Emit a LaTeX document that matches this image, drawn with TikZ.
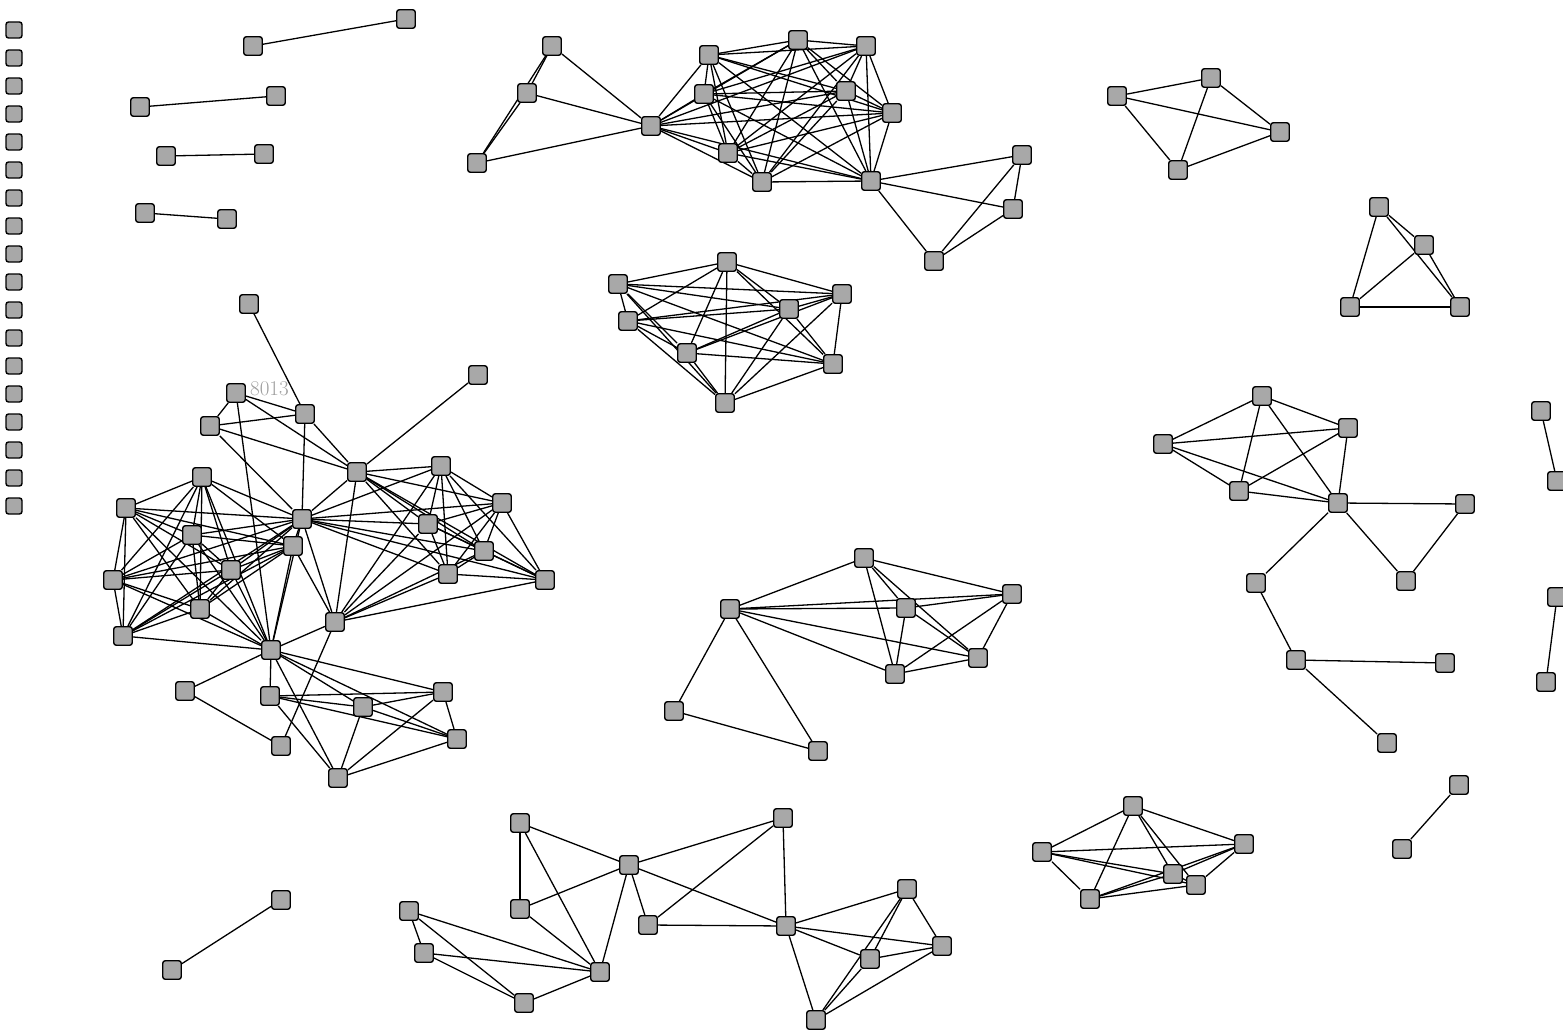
\documentclass[tikz,border=0pt]{standalone}
\usetikzlibrary{backgrounds}
\tikzset{
  nd/.style={draw=black, line width=1.4pt, fill=gray!68, rounded corners=2.5pt, minimum size=18.5pt, inner sep=0pt, shape=rectangle},
  cnd/.style={nd, minimum size=16pt},
  edge/.style={draw=black, line width=1.3pt},
  lbl/.style={text=gray!75, font=\fontsize{21}{21}\selectfont, inner sep=0pt, anchor=west}
}
\newcommand\mycliq[1]{\foreach \x [count=\i] in {#1}{\foreach \y [count=\j] in {#1}{\ifnum\j>\i\relax \draw[edge] (\x)--(\y);\fi}}}
\begin{document}
\begin{tikzpicture}[x=1pt,y=-1pt]
\useasboundingbox (0,0) rectangle (1563,1033);
% left column
\foreach \k in {0,...,17} { \node[cnd] (col\k) at (14,{30+\k*28}) {}; }
% pairs
\node[nd] (A1) at (253,46) {}; \node[nd] (A2) at (406,19) {};
\node[nd] (B1) at (140,107) {}; \node[nd] (B2) at (276,96) {};
\node[nd] (C1) at (166,156) {}; \node[nd] (C2) at (264,154) {};
\node[nd] (D1) at (145,213) {}; \node[nd] (D2) at (227,219) {};
\node[nd] (Z1) at (281,900) {}; \node[nd] (Z2) at (172,970) {};
% top middle
\node[nd] (T1) at (552,46) {}; \node[nd] (T2) at (527,93) {}; \node[nd] (T3) at (477,163) {};
\node[nd] (H) at (651,126) {};
\node[nd] (K1) at (709,55) {}; \node[nd] (K2) at (798,40) {}; \node[nd] (K3) at (866,46) {};
\node[nd] (K4) at (704,94) {}; \node[nd] (K5) at (846,91) {}; \node[nd] (K6) at (892,113) {};
\node[nd] (K7) at (728,153) {}; \node[nd] (K8) at (762,182) {}; \node[nd] (K9) at (871,181) {};
\node[nd] (R1) at (1022,155) {}; \node[nd] (R2) at (1013,209) {}; \node[nd] (R3) at (934,261) {};
% middle
\node[nd] (M1) at (618,284) {}; \node[nd] (M2) at (628,321) {}; \node[nd] (M3) at (727,262) {};
\node[nd] (M4) at (789,309) {}; \node[nd] (M5) at (842,294) {}; \node[nd] (M6) at (687,353) {};
\node[nd] (M7) at (833,364) {}; \node[nd] (M8) at (725,403) {};
% left big cluster
\node[nd] (L0) at (249,304) {};
\node[nd] (Lz) at (236,393) {};
\node[lbl] (lab) at (250,389) {8013};
\node[nd] (La) at (210,426) {}; \node[nd] (Lb) at (305,414) {};
\node[nd] (Lx) at (478,375) {};
\node[nd] (Lc) at (357,472) {}; \node[nd] (Ld) at (441,466) {}; \node[nd] (Le) at (502,503) {};
\node[nd] (Lf) at (428,524) {}; \node[nd] (Lg) at (484,551) {}; \node[nd] (Lh) at (448,574) {};
\node[nd] (Li) at (545,580) {};
\node[nd] (Lj) at (302,519) {}; \node[nd] (Lk) at (293,546) {};
\node[nd] (Ll) at (202,477) {}; \node[nd] (Lm) at (126,508) {}; \node[nd] (Ln) at (192,535) {};
\node[nd] (Lo) at (231,570) {}; \node[nd] (Lp) at (113,580) {}; \node[nd] (Lq) at (200,609) {};
\node[nd] (Lr) at (123,636) {}; \node[nd] (Ls) at (335,622) {}; \node[nd] (Lt) at (271,650) {};
\node[nd] (U1) at (185,691) {}; \node[nd] (U2) at (270,696) {}; \node[nd] (U3) at (363,707) {};
\node[nd] (U4) at (443,692) {}; \node[nd] (U5) at (457,739) {}; \node[nd] (U6) at (281,746) {};
\node[nd] (U7) at (338,778) {};
% center
\node[nd] (C1c) at (864,558) {}; \node[nd] (C2c) at (1012,594) {}; \node[nd] (C3c) at (906,608) {};
\node[nd] (C4c) at (730,609) {}; \node[nd] (C5c) at (978,658) {}; \node[nd] (C6c) at (895,674) {};
\node[nd] (C7c) at (674,711) {}; \node[nd] (C8c) at (818,751) {};
% bottom
\node[nd] (B1b) at (520,823) {}; \node[nd] (B2b) at (783,818) {}; \node[nd] (B3b) at (629,865) {};
\node[nd] (B4b) at (520,909) {}; \node[nd] (B5b) at (409,911) {}; \node[nd] (B6b) at (424,953) {};
\node[nd] (B7b) at (648,925) {}; \node[nd] (B8b) at (786,926) {}; \node[nd] (B9b) at (907,889) {};
\node[nd] (B10b) at (942,946) {}; \node[nd] (B11b) at (600,972) {}; \node[nd] (B12b) at (524,1003) {};
\node[nd] (B13b) at (870,959) {}; \node[nd] (B14b) at (816,1020) {};
% bottom right
\node[nd] (E1) at (1133,806) {}; \node[nd] (E2) at (1244,844) {}; \node[nd] (E3) at (1042,852) {};
\node[nd] (E4) at (1173,874) {}; \node[nd] (E5) at (1196,885) {}; \node[nd] (E6) at (1090,899) {};
% top right
\node[nd] (F1) at (1117,96) {}; \node[nd] (F2) at (1211,78) {}; \node[nd] (F3) at (1280,132) {};
\node[nd] (F4) at (1178,170) {};
\node[nd] (G1) at (1379,207) {}; \node[nd] (G2) at (1424,245) {}; \node[nd] (G3) at (1350,307) {};
\node[nd] (G4) at (1460,307) {};
% right
\node[nd] (P1) at (1262,396) {}; \node[nd] (P2) at (1348,428) {}; \node[nd] (P3) at (1163,444) {};
\node[nd] (P4) at (1239,491) {}; \node[nd] (P5) at (1338,503) {}; \node[nd] (P6) at (1465,504) {};
\node[nd] (P7) at (1406,581) {}; \node[nd] (P8) at (1256,583) {}; \node[nd] (P9) at (1296,660) {};
\node[nd] (P10) at (1445,663) {}; \node[nd] (P11) at (1387,743) {};
\node[nd] (Q1) at (1541,411) {}; \node[nd] (Q2) at (1557,481) {};
\node[nd] (Q3) at (1557,597) {}; \node[nd] (Q4) at (1546,682) {};
\node[nd] (Q5) at (1459,785) {}; \node[nd] (Q6) at (1402,849) {};

\begin{scope}[on background layer]
\foreach \a/\b in {A1/A2,B1/B2,C1/C2,D1/D2,Z1/Z2,
  T1/T2,T2/T3,T1/T3,T1/H,T2/H,T3/H,K9/R1,K9/R2,K9/R3,R1/R2,R1/R3,R2/R3,
  L0/Lb,Lz/Lb,Lz/La,Lz/Lc,Lz/Lt,La/Lb,La/Lc,La/Lj,Lb/Lj,Lb/Lc,Lx/Lc,Lt/Ls,Lk/Ls,
  Lt/U1,Lt/U2,Lt/U3,Lt/U4,Lt/U5,Lt/U7,U1/U6,U6/Ls,U2/U4,U2/U3,U2/U5,U2/U7,U3/U4,U3/U5,U3/U7,U4/U5,U4/U7,U5/U7,
  C4c/C1c,C4c/C2c,C4c/C3c,C4c/C5c,C4c/C6c,C4c/C7c,C4c/C8c,C7c/C8c,C1c/C2c,C1c/C3c,C1c/C6c,C1c/C5c,
  C3c/C2c,C3c/C6c,C3c/C5c,C2c/C5c,C2c/C6c,C6c/C5c,
  B1b/B3b,B1b/B4b,B1b/B11b,B4b/B3b,B4b/B11b,B3b/B11b,B3b/B7b,B3b/B2b,B3b/B8b,B2b/B7b,B2b/B8b,B7b/B8b,
  B5b/B6b,B5b/B11b,B5b/B12b,B6b/B11b,B6b/B12b,B12b/B11b,
  B8b/B9b,B8b/B10b,B8b/B13b,B8b/B14b,B9b/B10b,B9b/B13b,B9b/B14b,B13b/B10b,B13b/B14b,B10b/B14b,
  P3/P1,P3/P2,P3/P4,P3/P5,P1/P2,P1/P4,P1/P5,P2/P4,P2/P5,P4/P5,P5/P6,P5/P7,P6/P7,P5/P8,P8/P9,P9/P10,P9/P11,
  Q1/Q2,Q3/Q4,Q5/Q6}
  { \draw[edge] (\a)--(\b); }
\mycliq{H,K1,K2,K3,K4,K5,K6,K7,K8,K9}
\mycliq{M1,M2,M3,M4,M5,M6,M7,M8}
\mycliq{Ll,Lm,Ln,Lo,Lp,Lq,Lr,Lk,Lj,Lt}
\mycliq{Lj,Lc,Ld,Le,Lf,Lg,Lh,Li,Ls}
\mycliq{E1,E2,E3,E4,E5,E6}
\mycliq{F1,F2,F3,F4}
\mycliq{G1,G2,G3,G4}
\end{scope}
\end{tikzpicture}
\end{document}
